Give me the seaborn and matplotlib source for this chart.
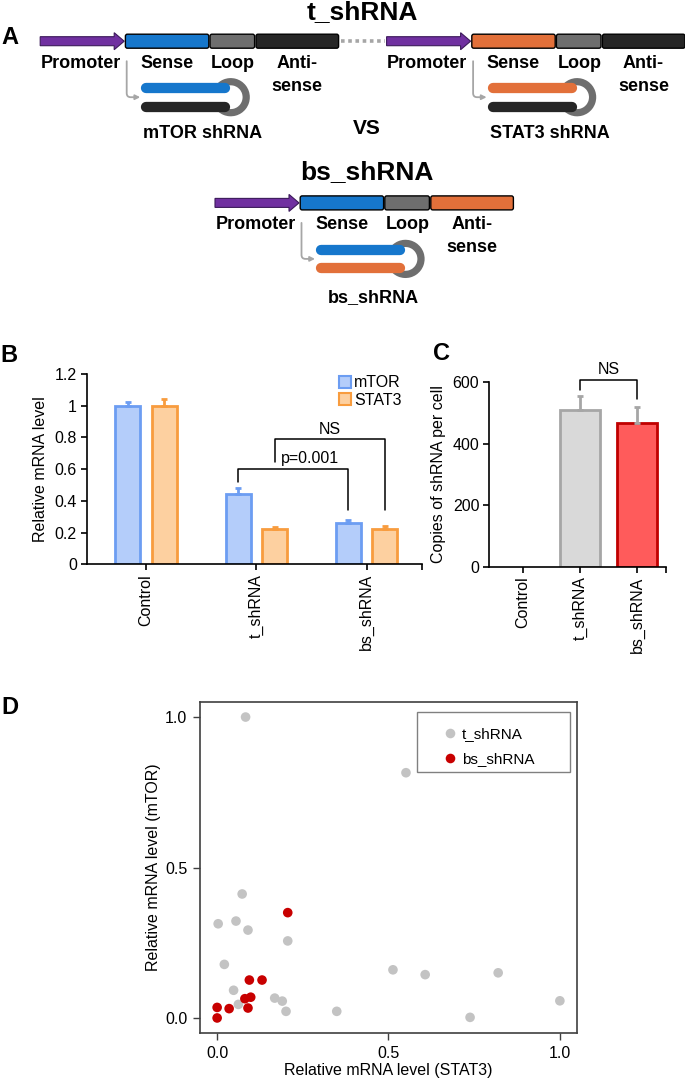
import numpy as np
import pandas as pd
import seaborn as sns
import matplotlib.pyplot as plt
from matplotlib.patches import FancyBboxPatch, FancyArrow, Arc, Rectangle
from matplotlib.lines import Line2D

# panel B: relative mRNA level
groups = ['Control', 't_shRNA', 'bs_shRNA']
genes = ['mTOR', 'STAT3']
mtor_level = [1.0, 0.443, 0.262]
mtor_err = [0.022, 0.035, 0.02]
stat3_level = [1.0, 0.22, 0.22]
stat3_err = [0.042, 0.017, 0.022]

# panel C: copies of shRNA per cell
copies = [0, 510, 467]
copies_err = [0, 45, 52]

# panel D: per-cell scatter
t_stat3 = [0.083, 0.551, 0.073, 0.003, 0.055, 0.09, 0.206, 0.021, 0.048, 0.062,
           0.168, 0.19, 0.201, 0.349, 0.513, 0.607, 0.82, 0.738, 1.0]
t_mtor = [1.0, 0.815, 0.412, 0.313, 0.322, 0.292, 0.256, 0.178, 0.092, 0.045,
          0.066, 0.056, 0.022, 0.022, 0.160, 0.144, 0.150, 0.002, 0.057]
bs_stat3 = [0.206, 0.094, 0.131, 0.081, 0.098, 0.09, 0.035, 0.0, 0.0]
bs_mtor = [0.350, 0.126, 0.126, 0.064, 0.069, 0.033, 0.031, 0.035, 0.0]

sns.set_style('ticks')
plt.rcParams['font.family'] = ['Liberation Sans', 'DejaVu Sans']
for key in ['text.color', 'axes.labelcolor', 'xtick.color', 'ytick.color']:
    plt.rcParams[key] = 'black'

W, H = 685, 1082
fig = plt.figure(figsize=(W / 100, H / 100), dpi=100)


def px_axes(left, top, right, bottom):
    return fig.add_axes([left / W, 1 - bottom / H, (right - left) / W, (bottom - top) / H])


# ---------------- panel A: constructs ----------------
ax_a = px_axes(0, 0, W, 320)
ax_a.set_xlim(0, W)
ax_a.set_ylim(320, 0)
ax_a.axis('off')

PURPLE = '#7030a0'
BLUE = '#1677cc'
ORANGE = '#e2703a'
DARK = '#262626'
LOOPC = '#6e6e6e'


def block(x0, x1, yc, color):
    ax_a.add_patch(FancyBboxPatch((x0, yc - 7), x1 - x0, 14,
                                  boxstyle='round,pad=0,rounding_size=2',
                                  fc=color, ec='black', lw=1))


def construct(x0, yc, sense_c, anti_c, bot_c):
    ax_a.add_patch(FancyArrow(x0, yc, 84, 0, width=9, head_width=17, head_length=10,
                              length_includes_head=True, fc=PURPLE, ec='#3c1a5a', lw=0.8))
    block(x0 + 85.2, x0 + 168.6, yc, sense_c)
    block(x0 + 169.8, x0 + 214.4, yc, LOOPC)
    block(x0 + 215.8, x0 + 298.4, yc, anti_c)
    kw = dict(ha='center', va='center', fontsize=13, fontweight='bold')
    ax_a.text(x0 + 40.6, yc + 22, 'Promoter', **kw)
    ax_a.text(x0 + 126.7, yc + 22, 'Sense', **kw)
    ax_a.text(x0 + 192.7, yc + 22, 'Loop', **kw)
    ax_a.text(x0 + 256.8, yc + 22, 'Anti-', **kw)
    ax_a.text(x0 + 256.8, yc + 45, 'sense', **kw)
    # hairpin
    ax_a.add_patch(Arc((x0 + 190.5, yc + 56), 31, 31, theta1=-150, theta2=150,
                       color=LOOPC, lw=5.2, zorder=2))
    ax_a.plot([x0 + 106, x0 + 185], [yc + 47, yc + 47], color=sense_c, lw=7.4,
              solid_capstyle='round', zorder=3)
    ax_a.plot([x0 + 106, x0 + 185], [yc + 65.5, yc + 65.5], color=bot_c, lw=7.4,
              solid_capstyle='round', zorder=3)
    ax_a.annotate('', xy=(x0 + 100, yc + 56), xytext=(x0 + 86.5, yc + 20),
                  arrowprops=dict(arrowstyle='-|>', color='#a6a6a6', lw=1.3,
                                  mutation_scale=7, shrinkA=0, shrinkB=0,
                                  connectionstyle='angle,angleA=90,angleB=0,rad=4'))


construct(40.2, 41.2, BLUE, DARK, DARK)
construct(386.6, 41.2, ORANGE, DARK, DARK)
construct(215.0, 202.9, BLUE, ORANGE, ORANGE)
ax_a.plot([341, 385], [41.2, 41.2], color='#a6a6a6', lw=2.6, ls=(0, (1, 1)))

bold = dict(ha='center', va='center', fontweight='bold')
ax_a.text(362.6, 12, 't_shRNA', fontsize=19, **bold)
ax_a.text(367, 172, 'bs_shRNA', fontsize=19, **bold)
ax_a.text(367, 128, 'VS', fontsize=15, **bold)
ax_a.text(203, 133.5, 'mTOR shRNA', fontsize=13, **bold)
ax_a.text(549.6, 133.5, 'STAT3 shRNA', fontsize=13, **bold)
ax_a.text(373.5, 298, 'bs_shRNA', fontsize=13, **bold)

# ---------------- panel B ----------------
ax_b = px_axes(86.7, 374, 421.6, 564.3)
df_b = pd.DataFrame({'group': groups * 2,
                     'gene': ['mTOR'] * 3 + ['STAT3'] * 3,
                     'level': mtor_level + stat3_level})
b_face = ['#b4cdfa', '#fdd0a0']
b_edge = ['#6c9df2', '#f89c3e']
sns.barplot(data=df_b, x='group', y='level', hue='gene', order=groups, hue_order=genes,
            palette=b_face, saturation=1, width=0.664, gap=0.32, errorbar=None,
            linewidth=2, legend=False, ax=ax_b)
bar_x = []
for cont, ec, lv, er in zip(ax_b.containers, b_edge, [mtor_level, stat3_level],
                            [mtor_err, stat3_err]):
    xs = []
    for bar in cont:
        bar.set_edgecolor(ec)
        xs.append(bar.get_x() + bar.get_width() / 2)
    bar_x.append(xs)
    ax_b.errorbar(xs, lv, yerr=[np.zeros(len(lv)), er], fmt='none', ecolor=ec,
                  elinewidth=2, capsize=2.5, capthick=2)

# significance brackets
lx, rx = bar_x[0][1], bar_x[0][2]
ax_b.plot([lx, lx, rx, rx], [0.52, 0.599, 0.599, 0.342], color='black', lw=1.1)
ax_b.text(1.49, 0.668, 'p=0.001', ha='center', va='center', fontsize=11.5)
nl, nr = 1.165, bar_x[1][2]
ax_b.plot([nl, nl, nr, nr], [0.647, 0.792, 0.792, 0.342], color='black', lw=1.1)
ax_b.text((nl + nr) / 2, 0.851, 'NS', ha='center', va='center', fontsize=11.5)

ax_b.set_xlim(-0.54, 2.5)
ax_b.set_ylim(0, 1.2)
ax_b.set_yticks([0, 0.2, 0.4, 0.6, 0.8, 1.0, 1.2])
ax_b.set_yticklabels(['0', '0.2', '0.4', '0.6', '0.8', '1', '1.2'])
ax_b.set_xticks(range(3))
ax_b.set_xticklabels(groups, rotation=90)
ax_b.set_xticks([2.5], minor=True)
ax_b.set_xlabel('')
ax_b.set_ylabel('Relative mRNA level', fontsize=11.5, labelpad=5)
sns.despine(ax=ax_b)
for s in ['left', 'bottom']:
    ax_b.spines[s].set_linewidth(1.2)
    ax_b.spines[s].set_color('black')
ax_b.tick_params(which='both', labelsize=11.5, length=4, width=1.2, color='black', pad=3)

handles = [Line2D([], [], marker='s', ls='', markersize=8, markerfacecolor=f,
                  markeredgecolor=e, markeredgewidth=1.5) for f, e in zip(b_face, b_edge)]
ax_b.legend(handles, genes, loc='upper left', bbox_to_anchor=(0.73, 1.035), frameon=False,
            handlelength=0.7, handletextpad=0.25, labelspacing=0.15, borderpad=0,
            fontsize=11.5)

# ---------------- panel C ----------------
ax_c = px_axes(489, 382.3, 665.7, 566.7)
df_c = pd.DataFrame({'group': groups, 'copies': copies})
c_face = ['#d9d9d9', '#d9d9d9', '#ff5b5b']
c_edge = ['none', '#a6a6a6', '#c00000']
sns.barplot(data=df_c, x='group', y='copies', hue='group', order=groups, hue_order=groups,
            palette=c_face, saturation=1, width=0.7, errorbar=None, linewidth=2,
            legend=False, ax=ax_c)
c_x = []
for cont in ax_c.containers:
    for bar in cont:
        c_x.append(bar.get_x() + bar.get_width() / 2)
for bar, ec in zip(ax_c.patches, c_edge):
    bar.set_edgecolor(ec)
ax_c.errorbar(c_x[1:], copies[1:], yerr=[np.zeros(2), copies_err[1:]], fmt='none',
              ecolor='#a6a6a6', elinewidth=2, capsize=2.5, capthick=2)
ax_c.plot([c_x[1], c_x[1], c_x[2], c_x[2]], [575, 607.5, 607.5, 545],
          color='black', lw=1.1, clip_on=False)
ax_c.text((c_x[1] + c_x[2]) / 2, 642, 'NS', ha='center', va='center', fontsize=11.5)

ax_c.set_xlim(-0.6, 2.5)
ax_c.set_ylim(0, 600)
ax_c.set_yticks([0, 200, 400, 600])
ax_c.set_xticks(range(3))
ax_c.set_xticklabels(groups, rotation=90)
ax_c.set_xticks([2.5], minor=True)
ax_c.set_xlabel('')
ax_c.set_ylabel('Copies of shRNA per cell', fontsize=11.5, labelpad=5)
sns.despine(ax=ax_c)
for s in ['left', 'bottom']:
    ax_c.spines[s].set_linewidth(1.2)
    ax_c.spines[s].set_color('black')
ax_c.tick_params(which='both', labelsize=11.5, length=4, width=1.2, color='black', pad=3)

# ---------------- panel D ----------------
ax_d = px_axes(200, 702, 577, 1033)
df_d = pd.DataFrame({'stat3': t_stat3 + bs_stat3,
                     'mtor': t_mtor + bs_mtor,
                     'construct': ['t_shRNA'] * len(t_stat3) + ['bs_shRNA'] * len(bs_stat3)})
sns.scatterplot(data=df_d, x='stat3', y='mtor', hue='construct',
                palette={'t_shRNA': '#c3c3c3', 'bs_shRNA': '#c80000'},
                s=48, linewidth=0, ax=ax_d)
ax_d.set_xlim(-0.05, 1.05)
ax_d.set_ylim(-0.05, 1.05)
ax_d.set_xticks([0, 0.5, 1.0])
ax_d.set_xticklabels(['0.0', '0.5', '1.0'])
ax_d.set_yticks([0, 0.5, 1.0])
ax_d.set_yticklabels(['0.0', '0.5', '1.0'])
ax_d.set_xlabel('Relative mRNA level (STAT3)', fontsize=11.5, labelpad=2)
ax_d.set_ylabel('Relative mRNA level (mTOR)', fontsize=11.5, labelpad=3)
for s in ax_d.spines.values():
    s.set_color('#404040')
    s.set_linewidth(1.2)
ax_d.tick_params(labelsize=11.5, length=5, width=1, color='#404040', pad=4)
sns.move_legend(ax_d, 'upper left', bbox_to_anchor=(0.6226, 0.948), frameon=False,
                title=None, fontsize=11, handletextpad=0.3, labelspacing=0.75,
                borderpad=0, handlelength=1.0)
ax_d.add_patch(Rectangle((0.576, 0.789), 0.406, 0.181, transform=ax_d.transAxes,
                         fill=False, ec='#808080', lw=1))

# panel letters
for letter, x, y in [('A', 9.8, 37.5), ('B', 9.3, 356), ('C', 441.7, 353.3), ('D', 10, 708)]:
    fig.text(x / W, 1 - y / H, letter, ha='center', va='center', fontsize=17,
             fontweight='bold')

fig.savefig('out.png', dpi=100)
